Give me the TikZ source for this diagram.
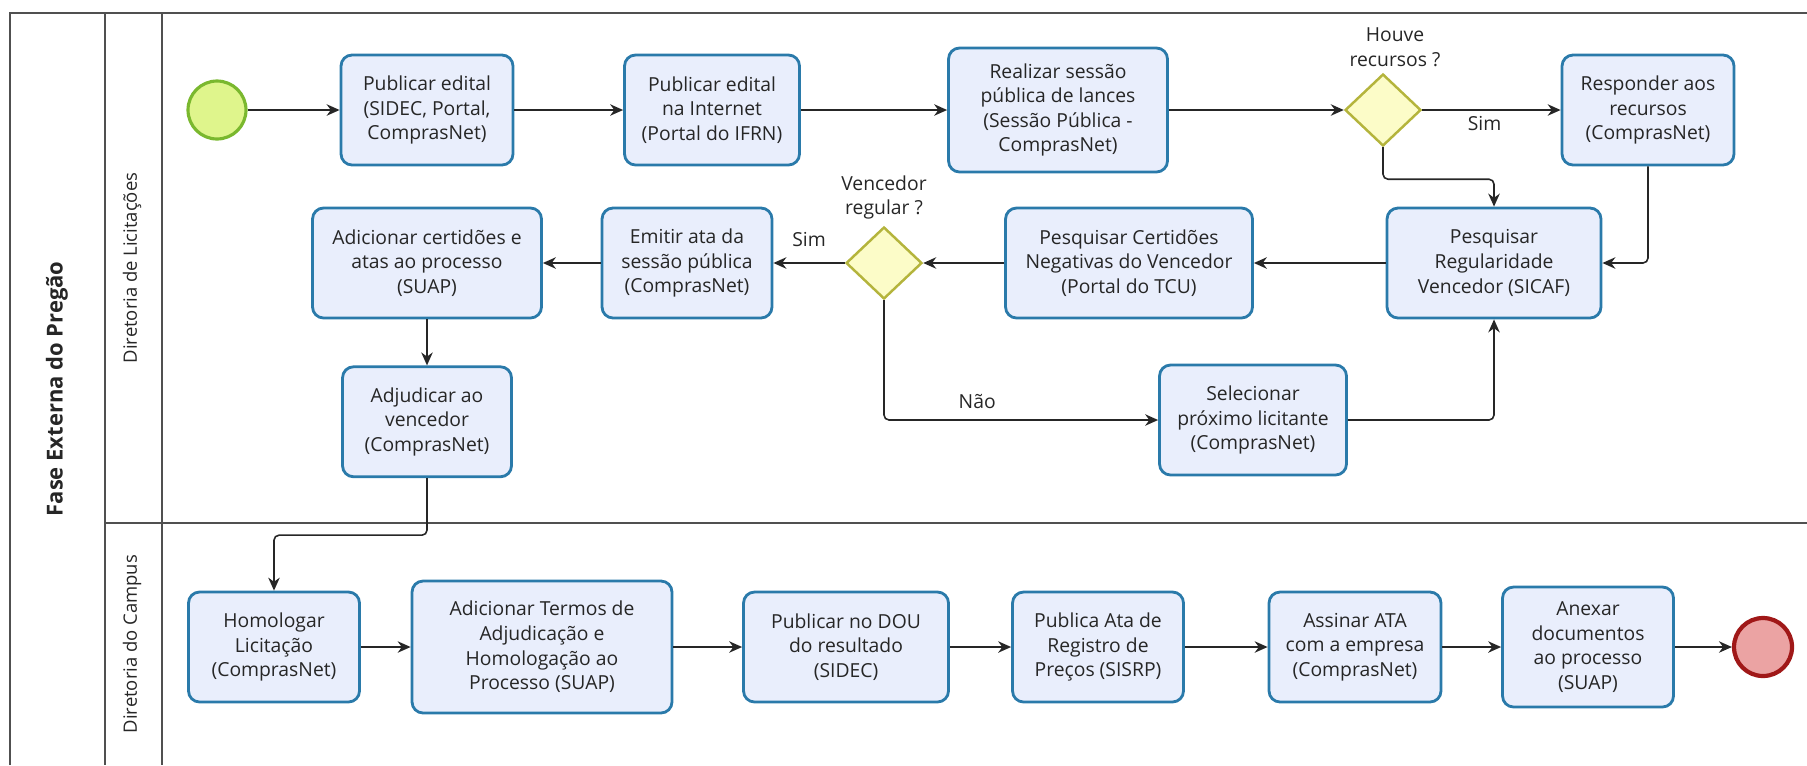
\documentclass[tikz,border=0pt]{standalone}
\usepackage{fontspec}
\setmainfont{Open Sans}
\usetikzlibrary{arrows.meta,positioning,shapes.geometric,calc}
\definecolor{ink}{HTML}{262626}
\definecolor{lane}{HTML}{505050}
\definecolor{task}{HTML}{E9EEFC}
\definecolor{taskb}{HTML}{2A7AAA}
\definecolor{gate}{HTML}{FCFCC8}
\definecolor{gateb}{HTML}{B4B43C}
\definecolor{startc}{HTML}{DFF58C}
\definecolor{startb}{HTML}{7AB82E}
\definecolor{stopc}{HTML}{EBA3A3}
\definecolor{stopb}{HTML}{A01818}

\begin{document}
\begin{tikzpicture}[
  x=0.02cm, y=-0.02cm,
  font=\fontsize{11}{14}\selectfont, text=ink, >={Stealth[length=2.6mm, width=2.3mm]},
  task/.style={draw=taskb, fill=task, line width=1.6pt, rounded corners=2.2mm, align=center, inner sep=2pt, minimum width=3.44cm, minimum height=2.2cm},
  gw/.style={diamond, draw=gateb, fill=gate, line width=1.4pt, minimum width=1.52cm, minimum height=1.44cm, inner sep=0pt},
  ev/.style={circle, draw=#1b, fill=#1c, line width=1.8pt, minimum size=1.16cm, inner sep=0pt},
  flow/.style={->, draw=ink, line width=0.9pt, rounded corners=1mm},
  lab/.style={align=center},
  lanel/.style={draw=lane, line width=1.1pt},
  lanet/.style={rotate=90, font=\fontsize{10.5}{13}\selectfont}
]
\useasboundingbox (0,0) rectangle (1807,765);

% ---- pool and lanes
\draw[lanel] (10,765) -- (10,13) -- (1807,13);
\draw[lanel] (105,13) -- (105,765);
\draw[lanel] (162,13) -- (162,765);
\draw[lanel] (105,523) -- (1807,523);
\node[rotate=90, font=\bfseries\fontsize{12.5}{15}\selectfont] (pool) at (57,389) {Fase Externa do Pregão};
\node[lanet] (lanelic) at (132,268) {Diretoria de Licitações};
\node[lanet] (lanecamp) at (132,644) {Diretoria do Campus};

% ---- licitacoes, first row
\node[ev=start] (start) at (217,110) {};
\node[task] (pub1) at (427,110) {Publicar edital\\(SIDEC, Portal,\\ComprasNet)};
\node[task, minimum width=3.5cm] (pub2) at (712,110) {Publicar edital\\na Internet\\(Portal do IFRN)};
\node[task, minimum width=4.38cm, minimum height=2.48cm] (sessao) at (1058,110) {Realizar sessão\\pública de lances\\(Sessão Pública -\\ComprasNet)};
\node[gw, label={[lab, xshift=0.24cm]above:Houve\\recursos ?}] (gw1) at (1383,110) {};
\node[task] (resp) at (1648,110) {Responder aos\\recursos\\(ComprasNet)};

% ---- licitacoes, second row
\node[task, minimum width=4.28cm] (regular) at (1494,263) {Pesquisar\\Regularidade\\Vencedor (SICAF)};
\node[task, minimum width=4.94cm] (certid) at (1129,263) {Pesquisar Certidões\\Negativas do Vencedor\\(Portal do TCU)};
\node[gw, label={[lab]above:Vencedor\\regular ?}] (gw2) at (884,263) {};
\node[task, minimum width=3.4cm] (emitir) at (687,263) {Emitir ata da\\sessão pública\\(ComprasNet)};
\node[task, minimum width=4.58cm] (addcert) at (427,263) {Adicionar certidões e\\atas ao processo\\(SUAP)};
\node[task, minimum width=3.38cm, below=0.92cm of addcert] (adjud) {Adjudicar ao\\vencedor\\(ComprasNet)};
\node[task, minimum width=3.74cm] (selec) at (1253,420) {Selecionar\\próximo licitante\\(ComprasNet)};

\draw[flow] (start) -- (pub1);
\draw[flow] (pub1) -- (pub2);
\draw[flow] (pub2) -- (sessao);
\draw[flow] (sessao) -- (gw1);
\draw[flow] (gw1) -- node[lab, below, pos=0.45] {Sim} (resp);
\draw[flow] (gw1.south) -- ++(0,32) -| (regular.north);
\draw[flow] (resp.south) |- (regular.east);
\draw[flow] (regular) -- (certid);
\draw[flow] (certid) -- (gw2);
\draw[flow] (gw2) -- node[lab, above, yshift=0.2cm] {Sim} (emitir);
\draw[flow] (emitir) -- (addcert);
\draw[flow] (addcert) -- (adjud);
\draw[flow] (gw2.south) |- node[lab, above, pos=0.67, yshift=0.1cm] {Não} (selec.west);
\draw[flow] (selec.east) -| (regular.south);

% ---- campus
\node[task, minimum width=3.42cm] (homol) at (274,647) {Homologar\\Licitação\\(ComprasNet)};
\node[task, minimum width=5.2cm, minimum height=2.64cm] (termos) at (542,647) {Adicionar Termos de\\Adjudicação e\\Homologação ao\\Processo (SUAP)};
\node[task, minimum width=4.1cm] (dou) at (846,647) {Publicar no DOU\\do resultado\\(SIDEC)};
\node[task, minimum width=3.42cm] (ata) at (1098,647) {Publica Ata de\\Registro de\\Preços (SISRP)};
\node[task] (assinar) at (1355,647) {Assinar ATA\\com a empresa\\(ComprasNet)};
\node[task, minimum width=3.42cm, minimum height=2.4cm] (anexar) at (1588,647) {Anexar\\documentos\\ao processo\\(SUAP)};
\node[ev=stop, line width=2.4pt] (stop) at (1763,647) {};

\draw[flow] (adjud.south) -- ++(0,57) -| (homol.north);
\foreach \a/\b in {homol/termos,termos/dou,dou/ata,ata/assinar,assinar/anexar,anexar/stop} \draw[flow] (\a) -- (\b);
\end{tikzpicture}
\end{document}
